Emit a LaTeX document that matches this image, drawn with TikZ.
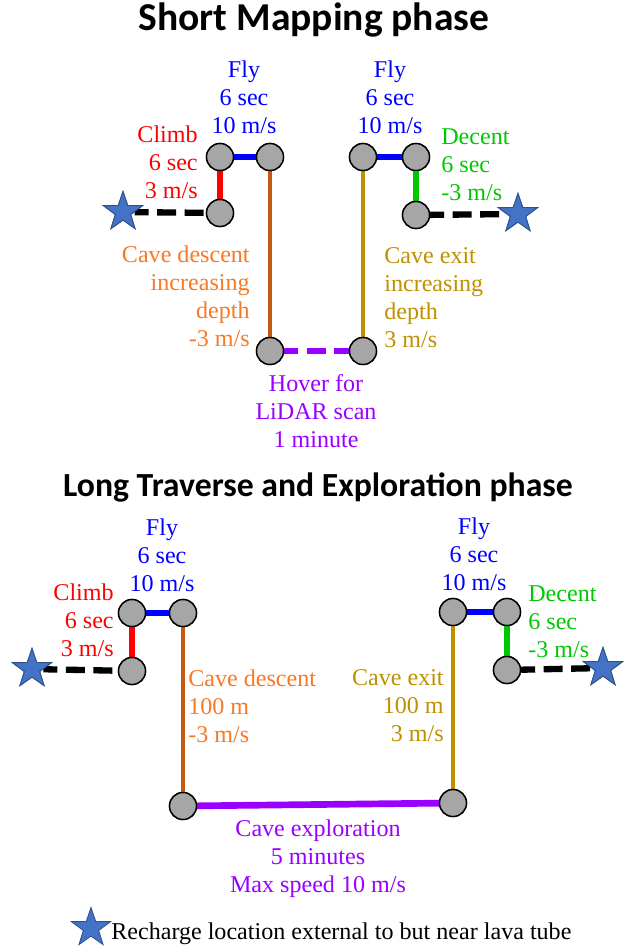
\documentclass[tikz,border=0pt]{standalone}
\usepackage{fontspec}
\setmainfont{Liberation Serif}
\newfontfamily\titlefont{Carlito}
\usepackage{tikz}
\usetikzlibrary{shapes.geometric}

\definecolor{climbred}{RGB}{255,0,0}
\definecolor{flyblue}{RGB}{0,0,255}
\definecolor{decgreen}{RGB}{0,200,0}
\definecolor{descline}{RGB}{197,90,17}
\definecolor{desctext}{RGB}{250,120,35}
\definecolor{exitgold}{RGB}{191,144,0}
\definecolor{scanpurple}{RGB}{153,0,255}
\definecolor{starblue}{RGB}{68,114,196}
\definecolor{stardark}{RGB}{47,82,143}

\tikzset{
	wp/.style={circle, draw=black, line width=0.8pt, fill={rgb,255:red,166;green,166;blue,166}, minimum size=0.54cm, inner sep=0pt},
	base/.style={star, star points=5, star point ratio=2.55, draw=stardark, line width=0.5pt, fill=starblue, minimum size=0.82cm, inner sep=0pt},
	lbl/.style={font=\fontsize{13.7}{15.9}\selectfont, inner sep=0pt},
	ttl/.style={font=\titlefont\bfseries\fontsize{#1}{24}\selectfont, inner sep=0pt},
	seg/.style={line width=3.8pt},
	shaft/.style={line width=2.6pt},
	hop/.style={line width=3.6pt, dash pattern=on 0.38cm off 0.17cm, dash phase=0.1cm}
}

\begin{document}
\begin{tikzpicture}[x=0.02cm, y=-0.02cm]
		\useasboundingbox (0, 0) rectangle (629, 948);

		% short mapping phase
		\node[ttl=22.5] (title1) at (314, 20) {Short Mapping phase};
		\node[base] (s1) at (123, 212) {};
		\node[wp] (a1) at (220, 213) {};
		\node[wp] (a2) at (220, 157) {};
		\node[wp] (a3) at (270, 157) {};
		\node[wp] (a4) at (270, 351) {};
		\node[wp] (a5) at (363, 351) {};
		\node[wp] (a6) at (363, 157) {};
		\node[wp] (a7) at (416, 157) {};
		\node[wp] (a8) at (416, 215) {};
		\node[base] (s2) at (518, 214) {};
		\draw[hop, black] (s1) -- (a1);
		\draw[seg, climbred] (a1) -- (a2);
		\draw[seg, flyblue] (a2) -- (a3);
		\draw[shaft, descline] (a3) -- (a4);
		\draw[hop, scanpurple] (a4) -- (a5);
		\draw[shaft, exitgold] (a5) -- (a6);
		\draw[seg, flyblue] (a6) -- (a7);
		\draw[seg, decgreen] (a7) -- (a8);
		\draw[hop, black] (a8) -- (s2);
		\foreach \n in {a1,a2,a3,a4,a5,a6,a7,a8} \node[wp] at (\n) {};
		\node[base] at (s1) {};
		\node[base] at (s2) {};
		\node[lbl, flyblue, align=center] (fly1) at (244, 97) {Fly\\6 sec\\10 m/s};
		\node[lbl, climbred, align=right, anchor=east] (climb1) at (198, 162) {Climb\\6 sec\\3 m/s};
		\node[lbl, flyblue, align=center] (fly2) at (390, 97) {Fly\\6 sec\\10 m/s};
		\node[lbl, decgreen, align=left, anchor=west] (dec1) at (441, 165) {Decent\\6 sec\\-3 m/s};
		\node[lbl, desctext, align=right, anchor=east] (desc1) at (250, 296) {Cave descent\\increasing\\depth\\-3 m/s};
		\node[lbl, exitgold, align=left, anchor=west] (exit1) at (384, 298) {Cave exit\\increasing\\depth\\3 m/s};
		\node[lbl, scanpurple, align=center] (hover) at (316, 411) {Hover for\\LiDAR scan\\1 minute};

		% long traverse phase
		\node[ttl=19.2] (title2) at (318, 487) {Long Traverse and Exploration phase};
		\node[base] (s3) at (32, 669) {};
		\node[wp] (b1) at (132, 671) {};
		\node[wp] (b2) at (132, 613) {};
		\node[wp] (b3) at (183, 613) {};
		\node[wp] (b4) at (183, 806) {};
		\node[wp] (b5) at (453, 803) {};
		\node[wp] (b6) at (453, 612) {};
		\node[wp] (b7) at (507, 612) {};
		\node[wp] (b8) at (507, 670) {};
		\node[base] (s4) at (603, 668) {};
		\draw[hop, black] (s3) -- (b1);
		\draw[seg, climbred] (b1) -- (b2);
		\draw[seg, flyblue] (b2) -- (b3);
		\draw[shaft, descline] (b3) -- (b4);
		\draw[seg, scanpurple] (b4) -- (b5);
		\draw[shaft, exitgold] (b5) -- (b6);
		\draw[seg, flyblue] (b6) -- (b7);
		\draw[seg, decgreen] (b7) -- (b8);
		\draw[hop, black] (b8) -- (s4);
		\foreach \n in {b1,b2,b3,b4,b5,b6,b7,b8} \node[wp] at (\n) {};
		\node[base] at (s3) {};
		\node[base] at (s4) {};
		\node[lbl, flyblue, align=center] (fly3) at (162, 555) {Fly\\6 sec\\10 m/s};
		\node[lbl, climbred, align=right, anchor=east] (climb2) at (114, 620) {Climb\\6 sec\\3 m/s};
		\node[lbl, flyblue, align=center] (fly4) at (474, 554) {Fly\\6 sec\\10 m/s};
		\node[lbl, decgreen, align=left, anchor=west] (dec2) at (528, 622) {Decent\\6 sec\\-3 m/s};
		\node[lbl, desctext, align=left, anchor=west] (desc2) at (188, 706) {Cave descent\\100 m\\-3 m/s};
		\node[lbl, exitgold, align=right, anchor=east] (exit2) at (444, 706) {Cave exit\\100 m\\3 m/s};
		\node[lbl, scanpurple, align=center] (explore) at (318, 859) {Cave exploration\\5 minutes\\Max speed 10 m/s};

		% legend
		\node[base] (key) at (91, 928) {};
		\node[lbl, anchor=west] (keytext) at (111, 934) {Recharge location external to but near lava tube};
	\end{tikzpicture}
\end{document}
